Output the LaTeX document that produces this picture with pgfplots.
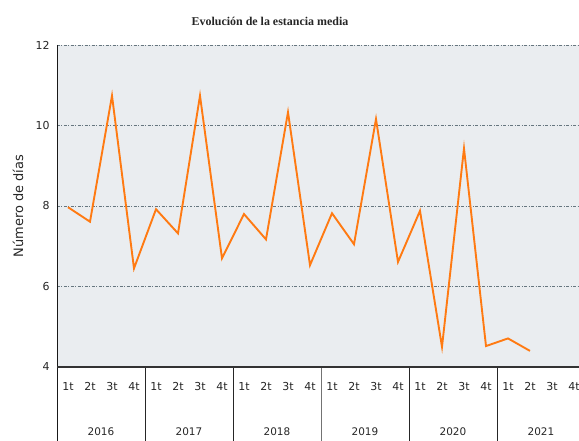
\documentclass[border=0pt]{standalone}
\usepackage{fontspec}
\setmainfont{DejaVu Sans}
\newfontfamily\titlefont{Liberation Serif}
\usepackage{pgfplots}
\pgfplotsset{compat=1.18}
\definecolor{bgc}{HTML}{EAEDF0}
\definecolor{gridc}{HTML}{66767F}
\definecolor{linec}{HTML}{FF7A12}
\begin{document}
\begin{tikzpicture}
\begin{axis}[name=ax, scale only axis, width=528bp, height=322bp,
  xmin=-0.5, xmax=23.5, ymin=4, ymax=12, ytick={4,6,8,10,12},
  /pgf/number format/assume math mode=true,
  axis line style={draw=none},
  axis background/.style={fill=bgc},
  major tick length=0pt,
  ymajorgrids, major grid style={gridc, line width=0.6pt, dash pattern=on 3pt off 1.5pt on 1pt off 1.5pt},
  xtick={0,...,23},
  xticklabels={1t,2t,3t,4t,1t,2t,3t,4t,1t,2t,3t,4t,1t,2t,3t,4t,1t,2t,3t,4t,1t,2t,3t,4t},
  xticklabel style={font=\fontsize{11}{12}\selectfont, text=black!85, yshift=-12bp},
  extra x ticks={1.5,5.5,9.5,13.5,17.5,21.5},
  extra x tick labels={2016,2017,2018,2019,2020,2021},
  extra x tick style={grid=none, xticklabel style={font=\fontsize{10.5}{12}\selectfont, text=black!85, yshift=-45bp}},
  yticklabel style={font=\fontsize{11}{13}\selectfont, text=black!85, xshift=-4bp},
  ylabel={Número de días},
  ylabel style={at={(axis description cs:-0.074,0.5)}, anchor=center, font=\fontsize{13}{14}\selectfont, text=black!85},
  clip=false,
]
\addplot[linec, line width=1.9pt, no marks] coordinates {
(0,7.97) (1,7.61) (2,10.74) (3,6.45)
(4,7.92) (5,7.32) (6,10.74) (7,6.70)
(8,7.80) (9,7.17) (10,10.33) (11,6.53)
(12,7.82) (13,7.05) (14,10.16) (15,6.61)
(16,7.88) (17,4.50) (18,9.43) (19,4.52)
(20,4.71) (21,4.40)
};
\draw[black!85, line width=0.8pt] (axis cs:3.5,4) -- ++(0pt,-80bp);
\draw[black!85, line width=0.8pt] (axis cs:7.5,4) -- ++(0pt,-80bp);
\draw[black!55, line width=0.8pt] (axis cs:11.5,4) -- ++(0pt,-80bp);
\draw[black!85, line width=0.8pt] (axis cs:15.5,4) -- ++(0pt,-80bp);
\draw[black!85, line width=0.8pt] (axis cs:19.5,4) -- ++(0pt,-80bp);
\end{axis}
\draw[black!90, line width=0.9pt] (ax.north west) -- ([yshift=-80bp]ax.south west);
\draw[black!80, line width=1.4pt] (ax.south west) -- (ax.south east);
\node[font=\titlefont\bfseries\fontsize{12}{13}\selectfont, text=black!85] at ([xshift=213bp, yshift=24bp]ax.north west) {Evolución de la estancia media};
\pgfresetboundingbox
\useasboundingbox ([xshift=-57bp,yshift=-74bp]ax.south west) rectangle ([xshift=522bp,yshift=45bp]ax.north west);
\end{tikzpicture}
\end{document}
